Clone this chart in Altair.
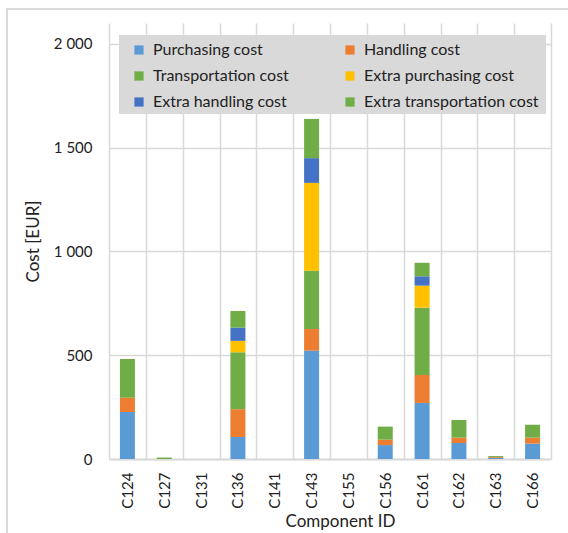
import altair as alt
import pandas as pd

components = ["C124", "C127", "C131", "C136", "C141", "C143",
              "C155", "C156", "C161", "C162", "C163", "C166"]
series = ["Purchasing cost", "Handling cost", "Transportation cost",
          "Extra purchasing cost", "Extra handling cost", "Extra transportation cost"]
colors = ["#5B9BD5", "#ED7D31", "#70AD47", "#FFC000", "#4472C4", "#70AD47"]

purchasing = [226, 0, 0, 106, 0, 522, 0, 67, 270, 77, 5, 74]
handling = [69, 0, 0, 134, 0, 104, 0, 26, 135, 26, 4, 29]
transportation = [187, 7, 0, 274, 0, 281, 0, 63, 324, 85, 5, 62]
extra_purchasing = [0, 0, 0, 55, 0, 423, 0, 0, 106, 0, 0, 0]
extra_handling = [0, 0, 0, 64, 0, 119, 0, 0, 45, 0, 0, 0]
extra_transportation = [0, 0, 0, 80, 0, 189, 0, 0, 65, 0, 0, 0]

values = [purchasing, handling, transportation,
          extra_purchasing, extra_handling, extra_transportation]

rows = []
for k, (name, vals) in enumerate(zip(series, values)):
    for comp, v in zip(components, vals):
        rows.append({"component": comp, "series": name, "order": k, "cost": v})
df = pd.DataFrame(rows)

# The legend grid fills column by column; list entries so they read row by row.
legend_order = [0, 2, 4, 1, 3, 5]
legend_domain = [series[i] for i in legend_order]
legend_range = [colors[i] for i in legend_order]

FONT = "Lato"
GRID = "#d9d9d9"
TEXT = "#222222"

bars = alt.Chart(df).mark_bar(size=15).encode(
    x=alt.X("component:N", sort=components,
            scale=alt.Scale(paddingInner=0, paddingOuter=0),
            axis=alt.Axis(title="Component ID", labelAngle=-90, labelPadding=13,
                          ticks=False, grid=True, tickBand="extent",
                          gridColor=GRID, gridWidth=1.5,
                          domainColor=GRID, domainWidth=2,
                          labelFont=FONT, labelFontSize=15, labelColor=TEXT,
                          titleFont=FONT, titleFontSize=17, titleFontWeight="normal",
                          titleColor=TEXT, titlePadding=5, titleX=231)),
    y=alt.Y("cost:Q", stack="zero",
            scale=alt.Scale(domain=[0, 2100], nice=False),
            axis=alt.Axis(title="Cost [EUR]", values=[0, 500, 1000, 1500, 2000],
                          labelExpr="replace(format(datum.value, ','), ',', ' ')",
                          domain=False, ticks=False, labelPadding=17,
                          gridColor=GRID, gridWidth=1.5,
                          labelFont=FONT, labelFontSize=15, labelColor=TEXT,
                          titleFont=FONT, titleFontSize=17, titleFontWeight="normal",
                          titleColor=TEXT, titlePadding=11)),
    color=alt.Color("series:N", sort=legend_domain,
                    scale=alt.Scale(domain=legend_domain, range=legend_range),
                    legend=alt.Legend(title=None, orient="none", legendX=22, legendY=19,
                                      columns=2, columnPadding=53, rowPadding=10,
                                      padding=0,
                                      symbolType="square", symbolSize=85,
                                      symbolStrokeWidth=0, symbolOffset=0,
                                      labelFont=FONT, labelFontSize=16,
                                      labelColor=TEXT, labelOffset=6,
                                      labelLimit=300)),
    order=alt.Order("order:Q"),
)

# grey panel behind the legend entries
legend_box = alt.Chart(alt.Data(values=[{}])).mark_rect(
    fill="#d9d9d9"
).encode(
    x=alt.value(10), x2=alt.value(437),
    y=alt.value(12), y2=alt.value(91),
)

# light outline around the whole figure
frame = alt.Chart(alt.Data(values=[{}])).mark_rect(
    fillOpacity=0, stroke=GRID, strokeWidth=2
).encode(
    x=alt.value(-102), x2=alt.value(600),
    y=alt.value(-14), y2=alt.value(600),
)

chart = alt.layer(legend_box, bars, frame).properties(
    width=442, height=436,
    autosize=alt.AutoSizeParams(type="none"),
    padding={"left": 109, "top": 23, "right": 17, "bottom": 74},
).configure_view(stroke=None)

chart.save("out.html", embed_options={"renderer": "svg", "actions": False})
